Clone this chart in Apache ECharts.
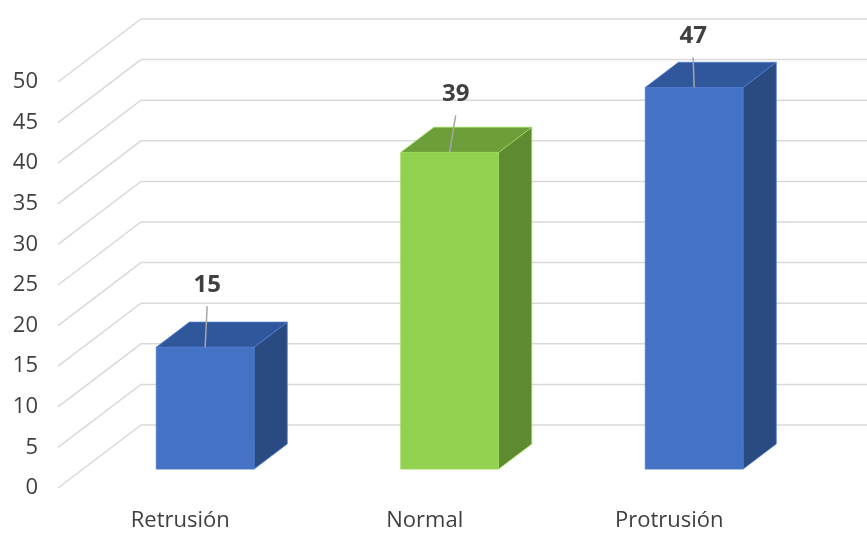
<!DOCTYPE html>
<html>
<head>
<meta charset="utf-8">
<script src="https://cdn.jsdelivr.net/npm/echarts@6/dist/echarts.min.js"></script>
<style>
  html, body { margin: 0; padding: 0; background: #ffffff; }
  #chart { width: 867px; height: 534px; }
</style>
</head>
<body>
<div id="chart"></div>
<script>
// Data
const categories = ['Retrusión', 'Normal', 'Protrusión'];
const values = [15, 39, 47];
const yTicks = [0, 5, 10, 15, 20, 25, 30, 35, 40, 45, 50];

// Pseudo-3D geometry: floor depth (px) and where the bars sit within it
const DEPTH_X = 83;
const DEPTH_Y = 63;
const BAR_FRONT = 0.30;   // fraction of floor depth in front of the bars
const BAR_DEPTH = 0.40;   // fraction of floor depth taken by a bar
const BAR_WIDTH_RATIO = 0.40;

// Face colours per bar
const faceColors = [
  { front: '#4472C4', top: '#30569C', side: '#2A4A82', edge: '#4F7BCB' },
  { front: '#92D050', top: '#6C9E3A', side: '#5E8A31', edge: '#9BD95A' },
  { front: '#4472C4', top: '#30569C', side: '#2A4A82', edge: '#4F7BCB' }
];

// Value label placement above each bar's front top edge
const labelRise = [62, 58, 51];
const labelShift = [2, 6, -1];

const FONT = '"Open Sans", "Noto Sans", sans-serif';
const TEXT_COLOR = '#404040';
const GRID_COLOR = '#D9D9D9';

function renderGridLine(params, api) {
  const p = api.coord([0, api.value(1)]);
  const x0 = params.coordSys.x;
  const y0 = p[1];
  return {
    type: 'polyline',
    silent: true,
    shape: {
      points: [
        [x0, y0],
        [x0 + DEPTH_X, y0 - DEPTH_Y],
        [api.getWidth(), y0 - DEPTH_Y]
      ]
    },
    style: { stroke: GRID_COLOR, lineWidth: 1.5, fill: null }
  };
}

function renderBar(params, api) {
  const i = api.value(0);
  const v = api.value(1);
  const base = api.coord([i, 0]);
  const topPt = api.coord([i, v]);
  const bandW = api.size([1, 0])[0];
  const w = bandW * BAR_WIDTH_RATIO;
  const ox = DEPTH_X * BAR_FRONT, oy = DEPTH_Y * BAR_FRONT;
  const dx = DEPTH_X * BAR_DEPTH, dy = DEPTH_Y * BAR_DEPTH;
  const xl = base[0] + ox - w / 2;
  const xr = xl + w;
  const yb = base[1] - oy;
  const yt = topPt[1] - oy;
  const cx = (xl + xr) / 2;
  const c = faceColors[params.dataIndex];
  const lx = cx + labelShift[params.dataIndex];
  const ly = yt - labelRise[params.dataIndex];

  return {
    type: 'group',
    children: [
      {
        type: 'polygon',
        shape: { points: [[xr, yt], [xr + dx, yt - dy], [xr + dx, yb - dy], [xr, yb]] },
        style: { fill: c.side, stroke: c.edge, lineWidth: 0.8 }
      },
      {
        type: 'polygon',
        shape: { points: [[xl, yt], [xr, yt], [xr + dx, yt - dy], [xl + dx, yt - dy]] },
        style: { fill: c.top, stroke: c.edge, lineWidth: 0.8 }
      },
      {
        type: 'rect',
        shape: { x: xl, y: yt, width: w, height: yb - yt },
        style: { fill: c.front, stroke: c.edge, lineWidth: 0.8 }
      },
      {
        type: 'line',
        shape: { x1: cx, y1: yt, x2: lx, y2: ly + 21 },
        style: { stroke: '#A6A6A6', lineWidth: 1.5 }
      },
      {
        type: 'text',
        style: {
          x: lx,
          y: ly,
          text: String(v),
          fill: TEXT_COLOR,
          font: 'bold 24px ' + FONT,
          align: 'center',
          verticalAlign: 'middle'
        }
      }
    ]
  };
}

const chart = echarts.init(document.getElementById('chart'), null, { renderer: 'canvas' });
chart.setOption({
  animation: false,
  backgroundColor: '#ffffff',
  grid: { left: 58, right: 75.5, top: 82, bottom: 46, containLabel: false },
  xAxis: {
    type: 'category',
    data: categories,
    axisLine: { show: false },
    axisTick: { show: false },
    splitLine: { show: false },
    axisLabel: { color: TEXT_COLOR, fontSize: 22, fontFamily: FONT, margin: 22 }
  },
  yAxis: {
    type: 'value',
    min: 0,
    max: 50,
    interval: 5,
    axisLine: { show: false },
    axisTick: { show: false },
    splitLine: { show: false },
    axisLabel: { color: TEXT_COLOR, fontSize: 22, fontFamily: FONT, margin: 20 }
  },
  series: [
    {
      type: 'custom',
      name: 'grid',
      clip: false,
      silent: true,
      z: 1,
      renderItem: renderGridLine,
      data: yTicks.map(function (t) { return [0, t]; })
    },
    {
      type: 'custom',
      name: 'bars',
      clip: false,
      z: 2,
      renderItem: renderBar,
      data: values.map(function (v, i) { return [i, v]; })
    }
  ]
});
</script>
</body>
</html>
